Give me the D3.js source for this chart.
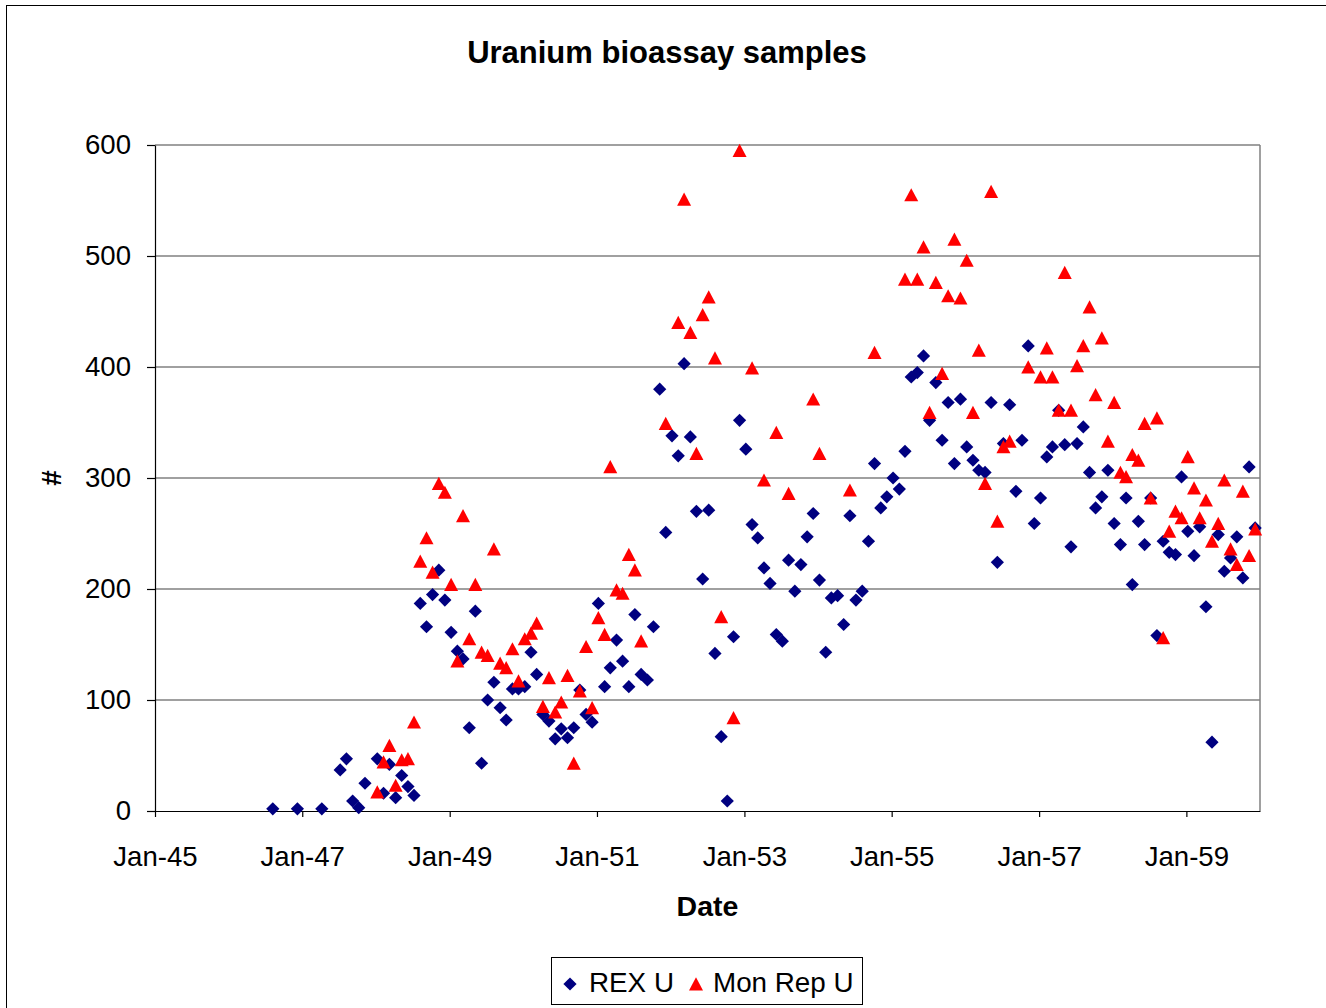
<!DOCTYPE html>
<html><head><meta charset="utf-8">
<script src="https://cdn.jsdelivr.net/npm/d3@7"></script>
<style>body{margin:0;background:#fff;} svg{display:block;}</style>
</head><body>
<svg id="chart" width="1326" height="1008"></svg>
<script>
// ---- data ----
const months = [
"1946-08","1946-12",
"1947-04","1947-07","1947-08","1947-09","1947-10","1947-11",
"1948-01","1948-02","1948-03","1948-04","1948-05","1948-06","1948-07","1948-08","1948-09","1948-10","1948-11","1948-12",
"1949-01","1949-02","1949-03","1949-04","1949-05","1949-06","1949-07","1949-08","1949-09","1949-10","1949-11","1949-12",
"1950-01","1950-02","1950-03","1950-04","1950-05","1950-06","1950-07","1950-08","1950-09","1950-10","1950-11","1950-12",
"1951-01","1951-02","1951-03","1951-04","1951-05","1951-06","1951-07","1951-08","1951-09","1951-10","1951-11","1951-12",
"1952-01","1952-02","1952-03","1952-04","1952-05","1952-06","1952-07","1952-08","1952-09","1952-10","1952-11","1952-12",
"1953-01","1953-02","1953-03","1953-04","1953-05","1953-06","1953-07","1953-08","1953-09","1953-10","1953-11","1953-12",
"1954-01","1954-02","1954-03","1954-04","1954-05","1954-06","1954-07","1954-08","1954-09","1954-10","1954-11","1954-12",
"1955-01","1955-02","1955-03","1955-04","1955-05","1955-06","1955-07","1955-08","1955-09","1955-10","1955-11","1955-12",
"1956-01","1956-02","1956-03","1956-04","1956-05","1956-06","1956-07","1956-08","1956-09","1956-10","1956-11","1956-12",
"1957-01","1957-02","1957-03","1957-04","1957-05","1957-06","1957-07","1957-08","1957-09","1957-10","1957-11","1957-12",
"1958-01","1958-02","1958-03","1958-04","1958-05","1958-06","1958-07","1958-08","1958-09","1958-10","1958-11","1958-12",
"1959-01","1959-02","1959-03","1959-04","1959-05","1959-06","1959-07","1959-08","1959-09","1959-10","1959-11","1959-12"
];
const rexU = [
2,2,
2,37,47,9,3,25,
47,16,42,12,32,22,14,187,166,195,217,190,
161,144,137,75,180,43,100,116,93,82,110,110,
112,143,123,87,81,65,74,66,75,109,87,80,
187,112,129,154,135,112,177,123,118,166,380,251,
338,320,403,337,270,209,271,142,67,9,157,352,
326,258,246,219,205,159,153,226,198,222,247,268,
208,143,192,194,168,266,190,198,243,313,273,283,
300,290,324,391,395,410,352,386,334,368,313,371,
328,316,307,305,368,224,331,366,288,334,419,259,
282,319,328,361,330,238,331,346,305,273,283,307,
259,240,282,204,261,240,282,158,243,233,231,301,
252,230,256,184,62,249,216,228,247,210,310,255
];
const monRepU = [
null,null,
null,null,null,null,null,null,
17,44,59,23,46,47,80,225,246,215,295,287,
204,135,266,155,204,143,140,236,133,129,146,117,
155,160,169,94,120,89,98,122,43,108,148,93,
174,159,310,199,196,231,217,153,null,null,null,349,
null,440,551,431,322,447,463,408,175,null,84,595,
null,399,null,298,null,341,null,286,null,null,null,371,
322,null,null,null,null,289,null,null,null,413,null,null,
null,null,479,555,479,508,359,476,394,464,515,462,
496,359,415,295,558,261,328,333,null,null,400,null,
391,417,391,361,485,361,401,419,454,375,426,333,
368,305,301,321,316,349,282,354,156,252,270,264,
319,291,264,280,243,259,298,236,222,288,230,254
];
const seriesNames = ["REX U","Mon Rep U"];
const yTicks = [0,100,200,300,400,500,600];
const xTickMonths = ["1945-01","1947-01","1949-01","1951-01","1953-01","1955-01","1957-01","1959-01"];
const xDomain = ["1945-01","1960-01"];

// ---- drawing ----
const FONT = "'Liberation Sans', Arial, Helvetica, sans-serif";
const svg = d3.select("#chart");
const parse = d3.timeParse("%Y-%m");
const toDate = s => d3.timeDay.offset(parse(s), 7);

const L = 155, R = 1260, T = 145, B = 811;
const x = d3.scaleTime().domain(xDomain.map(parse)).range([L, R]);
const y = d3.scaleLinear().domain([0, 600]).range([B, T]);

svg.append("rect").attr("width",1326).attr("height",1008).attr("fill","#fff");
// outer chart border (only left/top visible)
svg.append("rect").attr("x",6.5).attr("y",5.5).attr("width",1330).attr("height",1012)
  .attr("fill","none").attr("stroke","#000").attr("stroke-width",1);

// gridlines
svg.append("g").selectAll("line").data(yTicks.filter(d=>d>0)).join("line")
  .attr("x1",L).attr("x2",R).attr("y1",d=>y(d)).attr("y2",d=>y(d))
  .attr("stroke","#808080").attr("stroke-width",1.5);
// plot right border
svg.append("line").attr("x1",R).attr("x2",R).attr("y1",T).attr("y2",B)
  .attr("stroke","#808080").attr("stroke-width",1.5);

// axes
const yAxis = d3.axisLeft(y).tickValues(yTicks).tickSize(8).tickSizeOuter(0).tickPadding(16);
const gy = svg.append("g").attr("transform",`translate(${L},0)`).call(yAxis);
const xAxis = d3.axisBottom(x).tickValues(xTickMonths.map(parse))
  .tickFormat(d3.timeFormat("%b-%y")).tickSize(6).tickSizeOuter(0).tickPadding(29);
const gx = svg.append("g").attr("transform",`translate(0,${B})`).call(xAxis);
[gx, gy].forEach(g => {
  g.select(".domain").attr("stroke","#000").attr("stroke-width",1.2);
  g.selectAll(".tick line").attr("stroke","#000").attr("stroke-width",1.2);
  g.selectAll(".tick text").attr("font-family",FONT).attr("font-size",27.6).attr("fill","#000");
});

// markers
const diamond = "M0,-6.6L6.6,0L0,6.6L-6.6,0Z";
const triangle = "M0,-6.8L7,6.4L-7,6.4Z";
const rexPts = months.map((m,i)=>({d:toDate(m), v:rexU[i]})).filter(p=>p.v!=null);
const monPts = months.map((m,i)=>({d:toDate(m), v:monRepU[i]})).filter(p=>p.v!=null);
svg.append("g").selectAll("path").data(rexPts).join("path")
  .attr("d",diamond).attr("fill","#000080")
  .attr("transform",p=>`translate(${x(p.d)},${y(p.v)})`);
svg.append("g").selectAll("path").data(monPts).join("path")
  .attr("d",triangle).attr("fill","#ff0000")
  .attr("transform",p=>`translate(${x(p.d)},${y(p.v)})`);

// titles
svg.append("text").attr("x",667).attr("y",63).attr("text-anchor","middle")
  .attr("font-family",FONT).attr("font-weight","bold").attr("font-size",31)
  .text("Uranium bioassay samples");
svg.append("text").attr("x",(L+R)/2).attr("y",916).attr("text-anchor","middle")
  .attr("font-family",FONT).attr("font-weight","bold").attr("font-size",28.5)
  .text("Date");
svg.append("text").attr("transform",`translate(61,${(T+B)/2}) rotate(-90)`)
  .attr("text-anchor","middle")
  .attr("font-family",FONT).attr("font-weight","bold").attr("font-size",28)
  .text("#");

// legend
const lg = svg.append("g");
lg.append("rect").attr("x",551.5).attr("y",957.5).attr("width",311).attr("height",47)
  .attr("fill","#fff").attr("stroke","#000").attr("stroke-width",1);
lg.append("path").attr("d",diamond).attr("fill","#000080").attr("transform","translate(570,984)");
lg.append("text").attr("x",589).attr("y",992).attr("font-family",FONT).attr("font-size",27.8).text(seriesNames[0]);
lg.append("path").attr("d",triangle).attr("fill","#ff0000").attr("transform","translate(696,984)");
lg.append("text").attr("x",713).attr("y",992).attr("font-family",FONT).attr("font-size",27.8).text(seriesNames[1]);
</script>
</body></html>
